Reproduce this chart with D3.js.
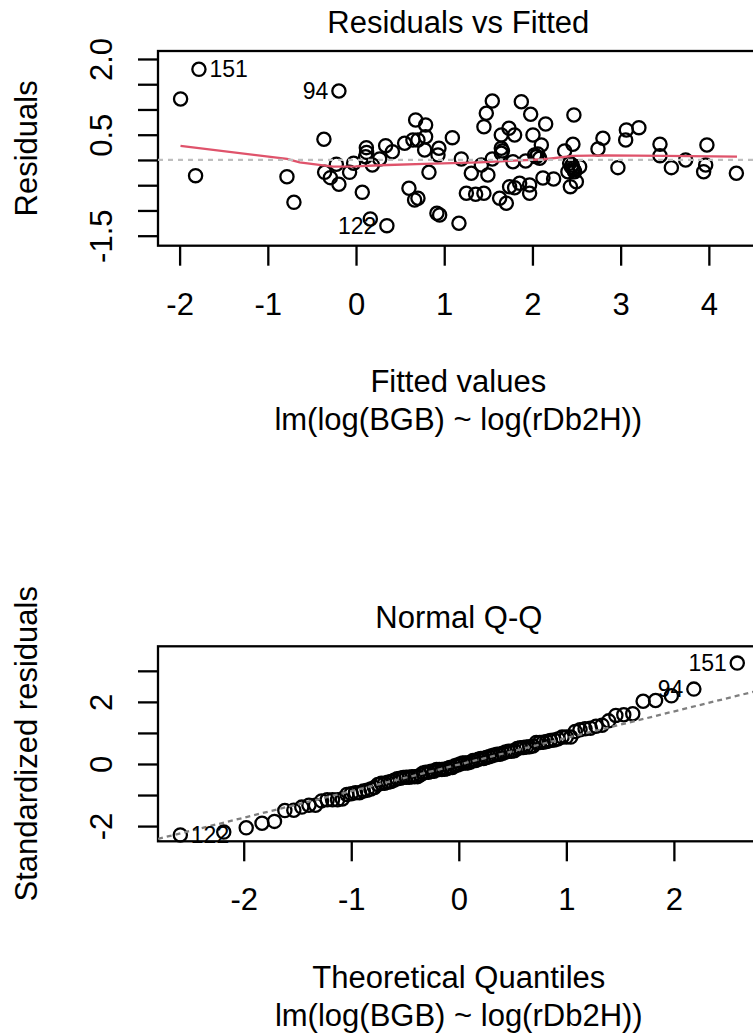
<!DOCTYPE html>
<html>
<head>
<meta charset="utf-8">
<script src="https://cdn.jsdelivr.net/npm/d3@7"></script>
<style>
  body { margin: 0; background: #fff; }
  svg text { font-family: "Liberation Sans", Arial, Helvetica, sans-serif; fill: #000; }
</style>
</head>
<body>
<script>
// lm(log(BGB) ~ log(rDb2H)) diagnostics

// fitted values and residuals of each observation
const fitted = [
  -1.781, -1.989, -1.819, -0.194, -0.783, -0.704, -0.364, -0.356, -0.291, -0.223,
  -0.194, -0.073, -0.027, 0.071, 0.117, 0.109, 0.185, 0.268, 0.336, 0.412,
  0.162, 0.350, 0.551, 0.676, 0.645, 0.702, 0.600, 0.664, 0.702, 0.789,
  0.789, 0.778, 0.940, 0.929, 1.092, 0.827, 0.917, 0.948, 1.167, 1.194,
  1.307, 1.421, 1.495, 1.545, 1.251, 1.356, 1.450, 1.545, 1.477, 1.450,
  1.647, 1.734, 1.798, 1.647, 1.647, 1.779, 1.628, 1.704, 1.741, 1.798,
  1.855, 1.968, 1.968, 1.874, 1.980, 2.006, 2.150, 2.101, 1.923, 2.025,
  2.044, 2.082, 2.119, 2.240, 2.470, 2.459, 2.365, 2.422, 2.441, 2.459,
  2.478, 2.535, 2.402, 2.498, 2.430, 2.799, 2.743, 2.969, 3.065, 3.057,
  3.207, 3.446, 3.446, 3.575, 3.737, 3.978, 3.964, 3.941, 4.312,
  2.45, 2.06, 0.12, 2.47, 1.66
];
const resid = [
  1.796, 1.208, -0.311, 1.366, -0.331, -0.838, 0.410, -0.244, -0.350, -0.085,
  -0.481, -0.244, -0.065, -0.640, 0.244, 0.065, -0.099, 0.020, 0.283, 0.164,
  -1.168, -1.301, 0.331, 0.792, 0.396, 0.396, -0.560, -0.792, -0.758, 0.693,
  0.461, 0.198, 0.232, 0.099, 0.442, -0.244, -1.055, -1.089, -1.253, 0.020,
  -0.263, -0.099, -0.297, 0.020, -0.659, -0.679, -0.659, 1.168, 0.925, 0.659,
  0.495, 0.628, 0.495, 0.232, 0.133, -0.034, -0.758, -0.857, -0.529, -0.549,
  -0.461, -0.495, -0.659, 1.154, 0.905, 0.495, 0.713, 0.297, -0.020, 0.099,
  0.065, 0.034, -0.356, -0.376, 0.891, 0.311, 0.178, -0.065, -0.133, -0.164,
  -0.232, -0.133, -0.232, -0.430, -0.529, 0.430, 0.218, -0.152, 0.594, 0.396,
  0.640, 0.311, 0.085, -0.152, 0.000, 0.297, -0.099, -0.232, -0.263,
  -0.10, 0.12, 0.15, -0.20, 0.18
];

// the three observations R labels
const labelIdx = [0, 3, 21];
const labelText = ["151", "94", "122"];

// red lowess smooth of residuals vs fitted
const smoothX = [-1.99, -0.783, -0.639, -0.262, -0.005, 0.268, 0.778, 1.401, 2.138, 2.459, 2.838, 3.499, 4.319];
const smoothY = [0.277, 0.020, -0.046, -0.133, -0.125, -0.105, -0.079, -0.046, 0.014, 0.079, 0.089, 0.079, 0.065];

// ticks
const fitTicks = [-2, -1, 0, 1, 2, 3, 4];
const residTicks = [2.0, 1.5, 1.0, 0.5, 0.0, -0.5, -1.0, -1.5];
const residTickLabels = ["2.0", "", "", "0.5", "", "", "", "-1.5"];
const qTicks = [-2, -1, 0, 1, 2];
const stdTicks = [3, 2, 1, 0, -1, -2];
const stdTickLabels = ["", "2", "", "0", "", "-2"];

const width = 753, height = 1035;
const fontSize = 31, idSize = 23;
const lw = 2.3;
const red = "#DF536B";

const svg = d3.select("body").append("svg")
  .attr("width", width)
  .attr("height", height)
  .style("display", "block");

// inverse normal cdf (Acklam), needed for the theoretical quantiles
function qnorm(p) {
  const a = [-3.969683028665376e+01, 2.209460984245205e+02, -2.759285104469687e+02, 1.383577518672690e+02, -3.066479806614716e+01, 2.506628277459239e+00];
  const b = [-5.447609879822406e+01, 1.615858368580409e+02, -1.556989798598866e+02, 6.680131188771972e+01, -1.328068155288572e+01];
  const c = [-7.784894002430293e-03, -3.223964580411365e-01, -2.400758277161838e+00, -2.549732539343734e+00, 4.374664141464968e+00, 2.938163982698783e+00];
  const d = [7.784695709041462e-03, 3.224671290700398e-01, 2.445134137142996e+00, 3.754408661907416e+00];
  const pl = 0.02425;
  if (p < pl || p > 1 - pl) {
    const q = Math.sqrt(-2 * Math.log(p < pl ? p : 1 - p));
    const v = (((((c[0] * q + c[1]) * q + c[2]) * q + c[3]) * q + c[4]) * q + c[5]) /
      ((((d[0] * q + d[1]) * q + d[2]) * q + d[3]) * q + 1);
    return p < pl ? v : -v;
  }
  const q = p - 0.5, r = q * q;
  return (((((a[0] * r + a[1]) * r + a[2]) * r + a[3]) * r + a[4]) * r + a[5]) * q /
    (((((b[0] * r + b[1]) * r + b[2]) * r + b[3]) * r + b[4]) * r + 1);
}

// box, axes and the texts around a panel
function frame(x, y, opts) {
  const [x0, x1] = x.range();
  const [y0, y1] = y.range(); // bottom, top
  const g = svg.append("g");

  const xAxis = g.append("g")
    .attr("transform", `translate(0,${y0})`)
    .call(d3.axisBottom(x).tickValues(opts.xTicks).tickSize(20).tickSizeOuter(0).tickFormat(d => String(d)));
  xAxis.select(".domain").remove();
  xAxis.selectAll("line").attr("stroke", "#000").attr("stroke-width", lw);
  xAxis.selectAll("text")
    .attr("y", 69).attr("dy", null)
    .attr("font-size", fontSize)
    .attr("font-family", null);

  const yAxis = g.append("g")
    .attr("transform", `translate(${x0},0)`)
    .call(d3.axisLeft(y).tickValues(opts.yTicks).tickSize(20).tickSizeOuter(0)
      .tickFormat((d, i) => opts.yLabels[i]));
  yAxis.select(".domain").remove();
  yAxis.selectAll("line").attr("stroke", "#000").attr("stroke-width", lw);
  yAxis.selectAll("text")
    .attr("x", null).attr("dy", null)
    .attr("transform", "translate(-46,0) rotate(-90)")
    .attr("text-anchor", "middle")
    .attr("font-size", fontSize)
    .attr("font-family", null);

  // plot box
  g.append("rect")
    .attr("x", x0).attr("y", y1)
    .attr("width", x1 - x0).attr("height", y0 - y1)
    .attr("fill", "none").attr("stroke", "#000").attr("stroke-width", lw);

  const cx = (x0 + x1) / 2;
  g.append("text").attr("x", cx).attr("y", y1 - 18)
    .attr("text-anchor", "middle").attr("font-size", fontSize).text(opts.title);
  g.append("text").attr("x", cx).attr("y", y0 + 146.5)
    .attr("text-anchor", "middle").attr("font-size", fontSize).text(opts.xLabel);
  g.append("text").attr("x", cx).attr("y", y0 + 184.5)
    .attr("text-anchor", "middle").attr("font-size", fontSize).text("lm(log(BGB) ~ log(rDb2H))");
  g.append("text")
    .attr("transform", `translate(37,${(y0 + y1) / 2}) rotate(-90)`)
    .attr("text-anchor", "middle").attr("font-size", fontSize).text(opts.yLabel);
}

// labels left or right of the point, as plot.lm does
function idLabels(xs, ys, x, y) {
  const mid = (d3.min(xs) + d3.max(xs)) / 2;
  svg.append("g").selectAll("text")
    .data(labelText)
    .join("text")
    .attr("x", (d, i) => x(xs[i]) + (xs[i] > mid ? -10.5 : 10.5))
    .attr("y", (d, i) => y(ys[i]) + 8)
    .attr("text-anchor", (d, i) => xs[i] > mid ? "end" : "start")
    .attr("font-size", idSize)
    .text(d => d);
}

// ---------- Residuals vs Fitted ----------
const x1 = d3.scaleLinear().domain([-2.245, 4.564]).range([158, 758.6]);
const y1 = d3.scaleLinear().domain([-1.698, 2.158]).range([245.7, 51]);

frame(x1, y1, {
  xTicks: fitTicks, yTicks: residTicks, yLabels: residTickLabels,
  title: "Residuals vs Fitted", xLabel: "Fitted values", yLabel: "Residuals"
});

svg.append("g").selectAll("circle")
  .data(fitted)
  .join("circle")
  .attr("cx", d => x1(d))
  .attr("cy", (d, i) => y1(resid[i]))
  .attr("r", 6.6)
  .attr("fill", "none")
  .attr("stroke", "#000")
  .attr("stroke-width", lw);

svg.append("path")
  .datum(smoothX)
  .attr("d", d3.line().x(d => x1(d)).y((d, i) => y1(smoothY[i])))
  .attr("fill", "none")
  .attr("stroke", red)
  .attr("stroke-width", lw);

svg.append("line")
  .attr("x1", x1.range()[0]).attr("x2", x1.range()[1])
  .attr("y1", y1(0)).attr("y2", y1(0))
  .attr("stroke", "#BEBEBE").attr("stroke-width", lw)
  .attr("stroke-dasharray", "5,5");

idLabels(labelIdx.map(i => fitted[i]), labelIdx.map(i => resid[i]), x1, y1);

// ---------- Normal Q-Q ----------
// standardized residuals r / (s * sqrt(1 - h))
const n = resid.length;
const meanFit = d3.mean(fitted);
const sxx = d3.sum(fitted, f => (f - meanFit) ** 2);
const sigma = Math.sqrt(d3.sum(resid, r => r * r) / (n - 2));
const stdRes = resid.map((r, i) => r / (sigma * Math.sqrt(1 - 1 / n - (fitted[i] - meanFit) ** 2 / sxx)));

// theoretical quantiles from ppoints(n)
const rank = d3.range(n).sort((a, b) => stdRes[a] - stdRes[b]);
const theo = new Array(n);
rank.forEach((idx, k) => { theo[idx] = qnorm((k + 0.5) / n); });

const x2 = d3.scaleLinear().domain([-2.797, 2.797]).range([158, 759.6]);
const y2 = d3.scaleLinear().domain([-2.49, 3.79]).range([841.3, 646.3]);

frame(x2, y2, {
  xTicks: qTicks, yTicks: stdTicks, yLabels: stdTickLabels,
  title: "Normal Q-Q", xLabel: "Theoretical Quantiles", yLabel: "Standardized residuals"
});

svg.append("g").selectAll("circle")
  .data(stdRes)
  .join("circle")
  .attr("cx", (d, i) => x2(theo[i]))
  .attr("cy", d => y2(d))
  .attr("r", 6.6)
  .attr("fill", "none")
  .attr("stroke", "#000")
  .attr("stroke-width", lw);

// qqline through the quartiles
const sorted = stdRes.slice().sort(d3.ascending);
const yq = [d3.quantile(sorted, 0.25), d3.quantile(sorted, 0.75)];
const xq = [qnorm(0.25), qnorm(0.75)];
const slope = (yq[1] - yq[0]) / (xq[1] - xq[0]);
const icpt = yq[0] - slope * xq[0];

svg.append("defs").append("clipPath").attr("id", "qqclip")
  .append("rect")
  .attr("x", 158).attr("y", 646.3).attr("width", 601.6).attr("height", 195);

svg.append("line")
  .attr("clip-path", "url(#qqclip)")
  .attr("x1", x2(-2.797)).attr("y1", y2(icpt + slope * -2.797))
  .attr("x2", x2(2.797)).attr("y2", y2(icpt + slope * 2.797))
  .attr("stroke", "#7F7F7F").attr("stroke-width", lw)
  .attr("stroke-dasharray", "5,4");

idLabels(labelIdx.map(i => theo[i]), labelIdx.map(i => stdRes[i]), x2, y2);
</script>
</body>
</html>
